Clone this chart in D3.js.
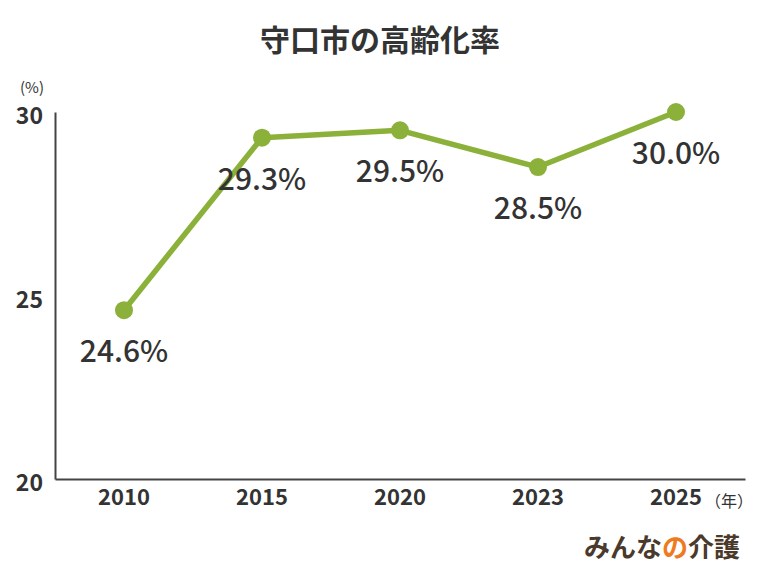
<!DOCTYPE html>
<html>
<head>
<meta charset="utf-8">
<script src="https://cdn.jsdelivr.net/npm/d3@7"></script>
<style>
  body { margin: 0; background: #fff; }
  svg { font-family: "Noto Sans CJK JP", "Noto Sans", sans-serif; }
</style>
</head>
<body>
<svg id="chart" width="760" height="570"></svg>
<script>
// chart data
const years = ['2010', '2015', '2020', '2023', '2025'];
const rates = [24.6, 29.3, 29.5, 28.5, 30.0];
const yTicks = [20, 25, 30];

const svg = d3.select('#chart');
const margin = { top: 112, right: 15, bottom: 91, left: 55 };
const width = 760, height = 570;

// x scale: band so points sit in the middle of each slot
const x = d3.scaleBand()
  .domain(years)
  .range([margin.left, width - margin.right]);

const y = d3.scaleLinear()
  .domain([20, 30])
  .range([height - margin.bottom, margin.top]);

const green = '#8cb13b';
const textColor = '#333';

// title
svg.append('text')
  .attr('x', 380)
  .attr('y', 51)
  .attr('text-anchor', 'middle')
  .attr('font-size', 30)
  .attr('font-weight', 700)
  .attr('fill', textColor)
  .text('守口市の高齢化率');

// y axis
const yAxis = svg.append('g')
  .attr('transform', `translate(${margin.left},0)`)
  .call(d3.axisLeft(y).tickValues(yTicks).tickSize(0).tickPadding(12));
yAxis.select('.domain').attr('stroke', '#444').attr('stroke-width', 2);
yAxis.selectAll('text')
  .attr('font-size', 23)
  .attr('font-weight', 700)
  .attr('fill', textColor)
  .attr('dy', '0.5em')
  .attr('font-family', '"Noto Sans CJK JP", sans-serif');

// x axis
const xAxis = svg.append('g')
  .attr('transform', `translate(0,${height - margin.bottom})`)
  .call(d3.axisBottom(x).tickSize(0).tickPadding(10));
xAxis.select('.domain').attr('stroke', '#444').attr('stroke-width', 2);
xAxis.selectAll('text')
  .attr('font-size', 22)
  .attr('font-weight', 700)
  .attr('fill', textColor)
  .attr('font-family', '"Noto Sans CJK JP", sans-serif');

// unit labels
svg.append('text')
  .attr('x', 32)
  .attr('y', 93)
  .attr('text-anchor', 'middle')
  .attr('font-size', 15)
  .attr('fill', textColor)
  .text('(%)');

svg.append('text')
  .attr('x', 729)
  .attr('y', 507)
  .attr('text-anchor', 'middle')
  .attr('font-size', 16)
  .attr('fill', textColor)
  .text('（年）');

// line
const pts = years.map((yr, i) => ({ year: yr, value: rates[i] }));
const line = d3.line()
  .x(d => x(d.year) + x.bandwidth() / 2)
  .y(d => y(d.value));

svg.append('path')
  .datum(pts)
  .attr('d', line)
  .attr('fill', 'none')
  .attr('stroke', green)
  .attr('stroke-width', 5.5)
  .attr('stroke-linejoin', 'round');

svg.selectAll('.dot')
  .data(pts)
  .enter()
  .append('circle')
  .attr('class', 'dot')
  .attr('cx', d => x(d.year) + x.bandwidth() / 2)
  .attr('cy', d => y(d.value))
  .attr('r', 9)
  .attr('fill', green);

// value labels below each point
svg.selectAll('.val')
  .data(pts)
  .enter()
  .append('text')
  .attr('class', 'val')
  .attr('x', d => x(d.year) + x.bandwidth() / 2)
  .attr('y', d => y(d.value) + 52)
  .attr('text-anchor', 'middle')
  .attr('font-size', 30)
  .attr('font-weight', 500)
  .attr('fill', textColor)
  .attr('font-family', '"Noto Sans CJK JP", sans-serif')
  .text(d => d.value.toFixed(1) + '%');

// logo
const logo = svg.append('text')
  .attr('x', 740)
  .attr('y', 557)
  .attr('text-anchor', 'end')
  .attr('font-size', 26)
  .attr('font-weight', 700)
  .attr('fill', '#4b3a2b');
logo.append('tspan').text('みんな');
logo.append('tspan').attr('fill', '#ee7b1f').text('の');
logo.append('tspan').text('介護');
</script>
</body>
</html>
